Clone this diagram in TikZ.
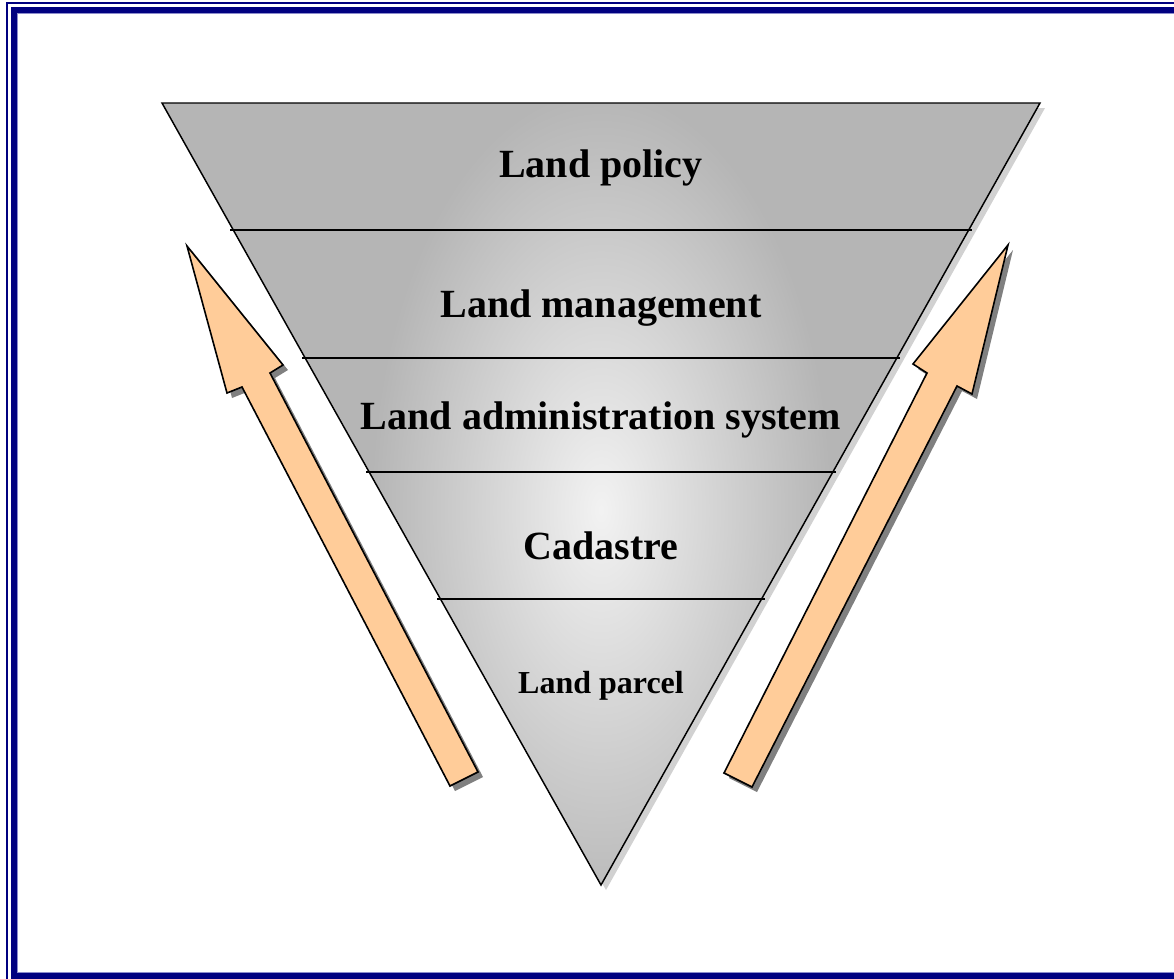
\documentclass[tikz,border=0pt]{standalone}
\usepackage{fontspec}
\setmainfont{Liberation Serif}
\begin{document}
\begin{tikzpicture}[x=0.75pt,y=-0.75pt]
  % colors
  \definecolor{kNavy}{rgb}{0.0,0.0,0.5}
  \definecolor{kLightNavy}{rgb}{0.55,0.55,0.8}
  \definecolor{kPeach}{rgb}{1.0,0.8,0.6}
  \definecolor{kGreyDark}{rgb}{0.71,0.71,0.71}
  \definecolor{kGreyLight}{rgb}{0.95,0.95,0.95}
  \definecolor{kShadow}{rgb}{0.5,0.5,0.5}
  \definecolor{kShadowLight}{rgb}{0.82,0.82,0.82}
  \tikzset{
    level/.style={font=\bfseries\fontsize{30}{36}\selectfont,inner sep=0pt},
    arrowshape/.style={draw=black,line width=1.2pt,line join=miter,fill=kPeach}
  }
  \useasboundingbox (0,0) rectangle (1174,978);
  % frame
  \draw[color=kNavy,line width=1pt] (7,3) rectangle (1190,990);
  \draw[color=kNavy,line width=4.2pt] (13.75,9.75) rectangle (1185,975.75);
  \draw[color=kLightNavy,line width=0.6pt] (17,13.2) rectangle (1180,972.5);

  % shadows
  \fill[color=kShadowLight] (162+5,103+5) -- (1040+5,103+5) -- (601+5,885+5) -- cycle;
  \fill[color=kShadow,shift={(5,5)}] (187,246) -- (283,365) -- (270,373) -- (478,772)
    -- (450,786) -- (242,387) -- (227,393) -- cycle;
  \fill[color=kShadow,shift={(5,5)}] (1008,245) -- (972,394) -- (957,386) -- (752,787)
    -- (724,773) -- (927,373) -- (913,364) -- cycle;

  % shape
  \begin{scope}
    \clip (162,103) -- (1040,103) -- (601,885) -- cycle;
    \fill[color=kGreyDark] (150,90) rectangle (1050,900);
    \shade[inner color=kGreyLight,outer color=kGreyDark] (601,510) ellipse (230 and 420);
  \end{scope}
  \draw[black,line width=1.1pt,line join=miter] (162,103) -- (1040,103) -- (601,885) -- cycle;
  \foreach \y in {230,358,472,599} {
    \draw[black,line width=0.9pt] (162+0.5614*\y-57.8-3,\y) -- (1040-0.5614*\y+57.8+3,\y);
  };

  % arrows
  \draw[arrowshape] (187,246) -- (283,365) -- (270,373) -- (478,772)
    -- (450,786) -- (242,387) -- (227,393) -- cycle;
  \draw[arrowshape] (1008,245) -- (972,394) -- (957,386) -- (752,787)
    -- (724,773) -- (927,373) -- (913,364) -- cycle;

  % labels
  \node[level] (policy) at (601,168) {Land policy};
  \node[level] (management) at (601,308) {Land management};
  \node[level] (admin) at (601,420) {Land administration system};
  \node[level] (cadastre) at (601,546) {Cadastre};
  \node[level,font=\bfseries\fontsize{24}{28}\selectfont] (parcel) at (601,686) {Land parcel};
\end{tikzpicture}
\end{document}
